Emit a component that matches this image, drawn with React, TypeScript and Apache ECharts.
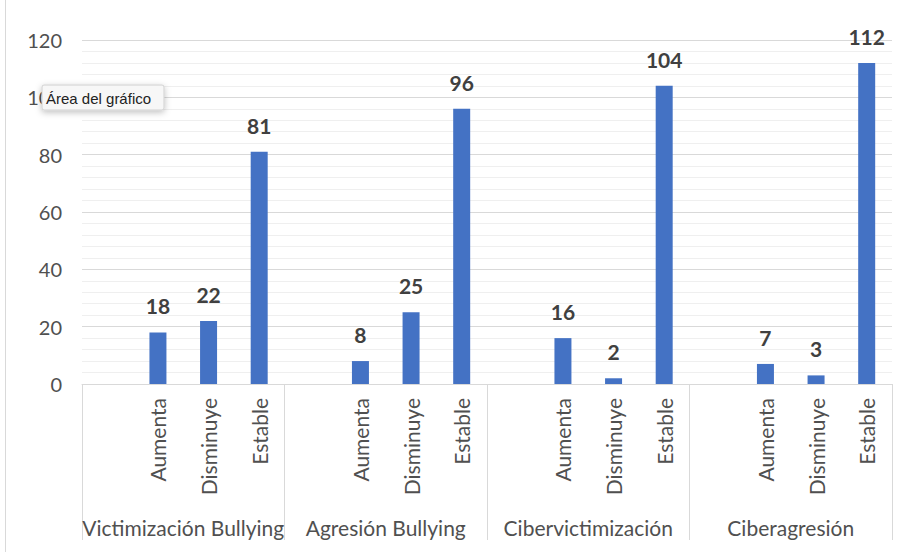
import React, { useEffect, useRef } from "react";
import * as echarts from "echarts";

const groups = ["Victimización Bullying", "Agresión Bullying", "Cibervictimización", "Ciberagresión"];
const subCategories = ["", "Aumenta", "Disminuye", "Estable"];
const aumenta = [18, 8, 16, 7];
const disminuye = [22, 25, 2, 3];
const estable = [81, 96, 104, 112];
const yTicks = { min: 0, max: 120, interval: 20 };

export default function App() {
  const ref = useRef<HTMLDivElement>(null);
  useEffect(() => {
    if (!ref.current) return;
    const chart = echarts.init(ref.current, undefined, { renderer: "svg" });
    const cats: string[] = [];
    const vals: (number | null)[] = [];
    groups.forEach((_, gi) => {
      subCategories.forEach((s, si) => {
        cats.push(s === "" ? " " + gi : s);
        vals.push(si === 0 ? null : si === 1 ? aumenta[gi] : si === 2 ? disminuye[gi] : estable[gi]);
      });
    });
    const font = "Lato, 'Open Sans', sans-serif";
    chart.setOption({
      animation: false,
      backgroundColor: "#ffffff",
      grid: { left: 82, right: 26, top: 40, bottom: 168, containLabel: false },
      xAxis: [
        {
          type: "category",
          data: cats,
          position: "bottom",
          axisLine: { show: true, lineStyle: { color: "#d9d9d9", width: 1 } },
          axisTick: { show: false },
          axisLabel: {
            rotate: 90,
            margin: 14,
            fontSize: 21,
            color: "#505050",
            fontFamily: font,
            interval: 0,
            formatter: (v: string) => (v.startsWith(" ") ? "" : v),
          },
        },
        {
          type: "category",
          data: groups,
          position: "bottom",
          axisLine: { show: false },
          axisTick: { show: true, length: 156, lineStyle: { color: "#d9d9d9", width: 1 } },
          axisLabel: { margin: 133, fontSize: 21, color: "#505050", fontFamily: font, interval: 0 },
        },
      ],
      yAxis: {
        type: "value",
        min: yTicks.min,
        max: yTicks.max,
        interval: yTicks.interval,
        axisLine: { show: false },
        axisTick: { show: false },
        axisLabel: { fontSize: 20, color: "#505050", fontFamily: font, margin: 20 },
        splitLine: { show: true, lineStyle: { color: "#d9d9d9", width: 1 } },
        minorTick: { show: false, splitNumber: 5 },
        minorSplitLine: { show: true, lineStyle: { color: "#efefef", width: 1 } },
      },
      series: [
        {
          type: "bar",
          xAxisIndex: 0,
          data: vals,
          barWidth: 17,
          itemStyle: { color: "#4472C4" },
          label: {
            show: true,
            position: "top",
            distance: 16,
            fontSize: 21,
            fontWeight: "bold",
            color: "#404040",
            fontFamily: font,
          },
        },
      ],
      graphic: [
        { type: "line", shape: { x1: 5.5, y1: 0, x2: 5.5, y2: 552 }, style: { stroke: "#d9d9d9", lineWidth: 1 } },
        {
          type: "rect",
          shape: { x: 42, y: 85, width: 122, height: 25, r: 2 },
          style: { fill: "#f7f7f7", stroke: "#d0d0d0", lineWidth: 1, shadowBlur: 6, shadowColor: "rgba(0,0,0,0.25)", shadowOffsetY: 2 },
          z: 100,
        },
        {
          type: "text",
          x: 46,
          y: 98,
          style: { text: "Área del gráfico", fontSize: 15, fill: "#222222", fontFamily: "'Liberation Sans', Arial, sans-serif", verticalAlign: "middle" },
          z: 101,
        },
      ],
    });
    return () => chart.dispose();
  }, []);
  return <div ref={ref} style={{ position: "fixed", left: 0, top: 0, width: 918, height: 552 }} />;
}
